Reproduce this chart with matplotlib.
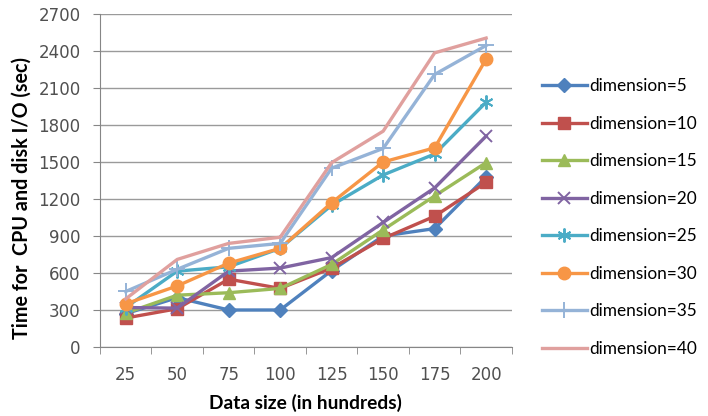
import numpy as np
import matplotlib.pyplot as plt

# data
sizes = ["25", "50", "75", "100", "125", "150", "175", "200"]
labels = ["dimension=5", "dimension=10", "dimension=15", "dimension=20",
          "dimension=25", "dimension=30", "dimension=35", "dimension=40"]
dim5 = [270, 400, 300, 300, 620, 900, 960, 1380]
dim10 = [235, 310, 550, 475, 640, 880, 1060, 1335]
dim15 = [275, 420, 440, 475, 670, 950, 1225, 1495]
dim20 = [320, 315, 615, 640, 725, 1010, 1290, 1710]
dim25 = [320, 615, 650, 800, 1150, 1395, 1565, 1985]
dim30 = [350, 495, 680, 800, 1170, 1500, 1615, 2335]
dim35 = [450, 630, 800, 840, 1450, 1610, 2210, 2445]
dim40 = [390, 710, 840, 890, 1495, 1750, 2385, 2505]
series = [dim5, dim10, dim15, dim20, dim25, dim30, dim35, dim40]

colors = ["#4F81BD", "#C0504D", "#9BBB59", "#8064A2",
          "#4BACC6", "#F79646", "#95B3D7", "#E0A09E"]
markers = ["D", "s", "^", "x", (6, 2, 0), "o", "+", None]
msizes = [7, 8, 9, 9, 10, 9, 11, 0]

plt.rcParams['font.family'] = ['Lato', 'DejaVu Sans']

fig = plt.figure(figsize=(7.08, 4.16), dpi=100)
ax = fig.add_axes([0.1412, 0.1659, 0.5818, 0.8004])

x = np.arange(len(sizes))
for vals, c, m, ms, lab in zip(series, colors, markers, msizes, labels):
    ax.plot(x, vals, color=c, lw=2.4, marker=m, markersize=ms,
            markeredgewidth=1.4 if m in ("x", "+", (6, 2, 0)) else 1,
            label=lab)

ax.set_xlim(-0.5, len(sizes) - 0.5)
ax.set_ylim(0, 2700)
ax.set_yticks(np.arange(0, 2701, 300))
ax.set_xticks(x)
ax.set_xticklabels(sizes)
ax.set_xticks(np.arange(-0.5, len(sizes)), minor=True)
for t in ax.get_xticklabels() + ax.get_yticklabels():
    t.set_family('DejaVu Sans')
ax.tick_params(axis='x', which='major', length=0, pad=14, labelsize=12, colors='#505050')
ax.tick_params(axis='x', which='minor', length=5, color='#868686')
ax.tick_params(axis='y', length=5, pad=9, color='#868686', labelsize=12, labelcolor='#505050')
ax.yaxis.grid(True, color='#9A9A9A', lw=1)
ax.set_axisbelow(True)
for s in ['top', 'right']:
    ax.spines[s].set_visible(False)
for s in ['left', 'bottom']:
    ax.spines[s].set_color('#868686')

ax.set_xlabel("Data size (in hundreds)", fontweight='bold', fontsize=13.8)
ax.set_ylabel("Time for  CPU and disk I/O (sec)", fontweight='bold', fontsize=14.2)
ax.xaxis.set_label_coords(0.5, -0.141)
ax.yaxis.set_label_coords(-0.165, 0.447)

fig.legend(loc='center left', bbox_to_anchor=(0.7655, 0.477), frameon=False,
           borderpad=0, borderaxespad=0,
           fontsize=12.4, labelspacing=1.25, handlelength=2.6, handletextpad=0.15)

fig.savefig("out.png", dpi=100)
